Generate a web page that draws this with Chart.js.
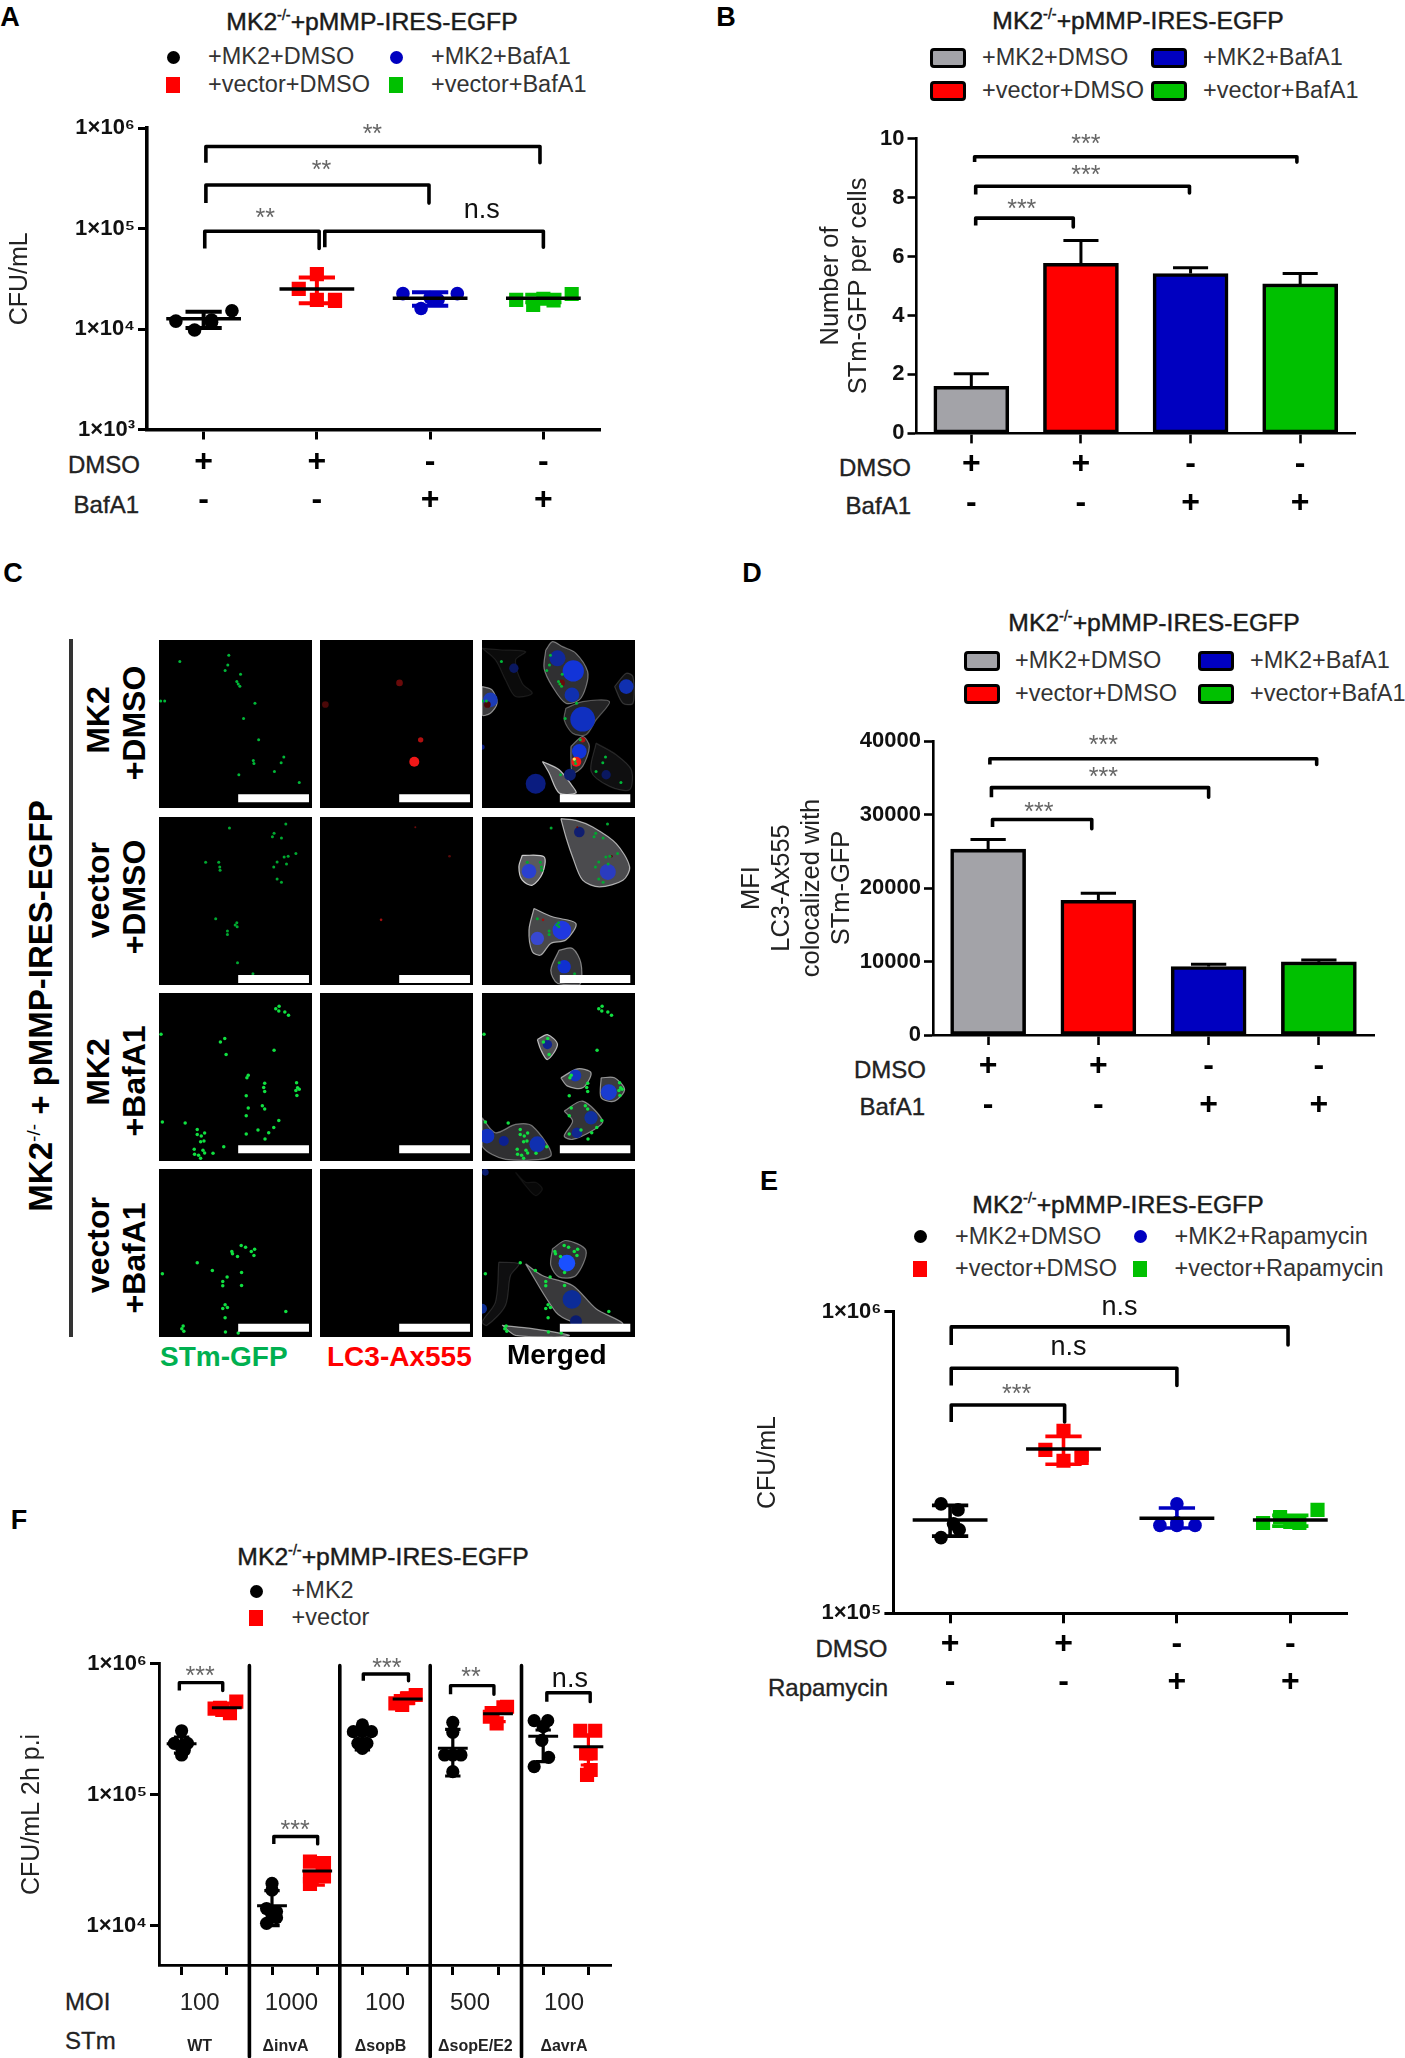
<!DOCTYPE html>
<html><head><meta charset="utf-8">
<style>
html,body{margin:0;padding:0;background:#fff;}
#page{position:relative;width:1405px;height:2058px;overflow:hidden;font-family:"Liberation Sans",Arial,sans-serif;color:#222;}
canvas{position:absolute;display:block;}
canvas.img{background:#000;filter:blur(.5px);}
canvas.img.merged{filter:blur(.7px);}
.t{position:absolute;white-space:nowrap;line-height:1;}
.t sup{font-size:58%;line-height:0;font-weight:normal;}
.sw{position:absolute;box-sizing:border-box;}
</style>
<script src="https://cdn.jsdelivr.net/npm/chart.js@4"></script>
</head><body><div id="page"></div>
<script>
/* ---------- labels ---------- */
const panelTitle = 'MK2<sup>-/-</sup>+pMMP-IRES-EGFP';
const dmsoRow = ['+','+','-','-'];
const drugRow = ['-','-','+','+'];
const legendBaf = ['+MK2+DMSO','+vector+DMSO','+MK2+BafA1','+vector+BafA1'];
const legendRapa = ['+MK2+DMSO','+vector+DMSO','+MK2+Rapamycin','+vector+Rapamycin'];
const legendF = ['+MK2','+vector'];
const moiLabels = ['100','1000','100','500','100'];
const moiCenters = [0.40,2.43,4.50,6.38,8.46];
const strainLabels = ['WT','ΔinvA','ΔsopB','ΔsopE/E2','ΔavrA'];
const strainCenters = [0.40,2.30,4.40,6.50,8.46];
const logTicksA = [1e3,1e4,1e5,1e6];
const logTicksE = [1e5,1e6];
const logTicksF = [1e4,1e5,1e6];

/* ---------- panel A ---------- */
const aOffsets = [[-0.245,-0.08,0.07,0.25,0.07],[0,-0.16,0,0.16,0.16],[-0.24,0.24,-0.08,0.07,0],[-0.24,-0.09,0.09,0.25,0]];
const aValues = [[11980,9770,11700,15170,12300],[35160,25070,19500,19500,19000],[22480,22480,16010,19500,20500],[19500,17340,19190,22290,20000]];
const aMeans = [12660,25070,20280,20280];
const aLow = [10240,18030,17060,18470];
const aHigh = [14830,32500,23180,21900];
const aBrackets = [[0.02,2.97,654000,451000,451000],[0.02,1.99,271000,179000,179000],[0.01,1.02,93900,63400,63400],[1.07,3.0,93900,65000,65000]];
const aNotes = [[1.49,1007000,'**'],[1.04,441000,'**'],[0.545,148000,'**'],[2.455,150000,'n.s']];

/* ---------- panel B ---------- */
const bValues = [1.6,5.77,5.42,5.07];
const bErrTop = [2.02,6.54,5.62,5.42];
const bBrackets = [[0.03,2.97,9.38,9.2,9.2],[0.04,1.99,8.38,8.1,8.15],[0.04,0.93,7.3,7.05,7.0]];
const bNotes = [[1.045,10.05,'***'],[1.045,8.97,'***'],[0.46,7.82,'***']];

/* ---------- panel D ---------- */
const dValues = [25290,18320,9320,9950];
const dErrTop = [26600,19270,9630,10200];
const dBrackets = [[0.016,2.98,37590,36800,36800],[0.03,2.0,33660,32360,32360],[0.04,0.94,29320,28300,28060]];
const dNotes = [[1.045,40300,'***'],[1.045,35970,'***'],[0.46,31300,'***']];

/* ---------- panel E ---------- */
const eOffsets = [[-0.08,0.07,0.08,-0.08,0.03],[0,-0.16,0,0.16,0.16],[0,-0.15,0,0.16,0],[-0.24,-0.09,0.08,0.24,0]];
const eValues = [[230700,220300,189200,178200,198000],[402700,348300,320600,327500,335000],[230700,195700,195700,195700,200000],[199300,208500,199300,220300,201000]];
const eMeans = [204000,350900,206700,204000];
const eLow = [180300,312000,191900,194600];
const eHigh = [228000,386200,223400,211300];
const eBrackets = [[0.01,2.98,891000,776000,776000],[0.01,2.0,650000,570000,570000],[0.01,1.01,491000,431000,431000]];
const eNotes = [[1.494,1030000,'n.s'],[1.044,762000,'n.s'],[0.586,560000,'***']];

/* ---------- panel F ---------- */
const fOffsets = [[0,-0.16,0.13,0,0,0.06],[0.21,-0.15,0.07,-0.10,-0.27],[0,0,-0.12,0.1,0,-0.12,0.1],[-0.16,0.15,-0.16,0.15,-0.16],[0,-0.2,0.2,0,0,0.1,-0.1],[0.18,-0.27,-0.12,0,-0.15],[0,0,-0.18,0.18,0,0],[0.12,-0.18,-0.03,-0.14,0.2],[-0.2,0.1,0,0.12,-0.2,-0.03],[-0.18,0.15,-0.05,0.05,-0.03,0.05]];
const fValues = [[308000,247000,247000,226000,201000,220000],[514000,462000,419000,444000,455000],[21000,18700,13500,12800,12000,10400,11500],[30800,30000,20830,23700,23700],[341000,303000,303000,303000,226000,247000,247000],[578000,499000,484000,546000,520000],[357000,201000,201000,201000,150000,300000],[465000,394000,351000,420000,470000],[368000,368000,331000,193000,163800,260000],[308000,308000,207000,207000,141700,154500]];
const fMeans = [244600,462000,14160,26100,291000,538000,226000,415700,280000,232700];
const fLow = [208000,424000,10000,20400,220000,499000,139000,361000,179000,168600];
const fHigh = [276000,500000,18530,31500,323000,598000,316000,457000,312000,286000];
const fBrackets = [[-0.05,0.91,718000,624000,624000],[2.04,3.01,47900,42100,42100],[4.02,5.02,835000,743000,743000],[5.95,6.91,681000,585000,585000],[8.08,9.04,601000,514000,514000]];
const fDividers = [1.5,3.5,5.5,7.52];
const fDividerSpan = [968000,1000];
const fNotes = [[0.41,907000,'***'],[2.51,60500,'***'],[4.54,1050000,'***'],[6.4,885000,'**'],[8.59,760000,'n.s']];

/* ---------- panel C: microscopy fields, values in image units ---------- */
const greenRow1 = [[208,46],[62,65],[205,75],[197,92],[243,103],[232,125],[236,132],[241,139],[286,190],[252,236],[297,300],[5,183],[17,183],[281,362],[283,371],[372,352],[364,369],[344,395],[238,405],[418,428]];
const greenRow2 = [[210,33],[378,21],[343,49],[338,59],[365,63],[408,110],[385,118],[373,120],[352,135],[380,141],[342,150],[139,136],[178,136],[181,150],[182,160],[352,186],[365,196],[169,306],[232,318],[227,325],[233,330],[204,343],[204,353],[234,438],[280,471]];
const greenRow3 = [[358,40],[348,47],[357,54],[375,57],[386,67],[6,124],[196,137],[183,147],[200,185],[343,172],[266,247],[262,255],[315,271],[312,284],[315,296],[410,270],[413,285],[408,293],[418,289],[411,308],[260,309],[308,339],[315,349],[266,346],[260,369],[357,383],[10,388],[78,391],[342,404],[295,412],[327,420],[260,424],[316,439],[114,410],[114,425],[136,421],[126,430],[134,445],[124,447],[105,470],[131,473],[136,481],[193,462],[161,482],[118,488],[106,485],[124,497]];
const greenRow4 = [[258,235],[245,230],[285,241],[217,248],[219,255],[275,248],[234,263],[283,260],[114,282],[159,305],[203,325],[190,338],[246,311],[190,351],[246,350],[10,315],[197,408],[204,416],[190,419],[197,447],[378,428],[72,472],[68,480],[74,488],[198,490],[236,493]];
const redRow1 = [[237,129,10,'#6a0a0a'],[16,194,10,'#4a0808'],[300,300,8,'#b01010'],[281,366,15,'#f01818']];
const redRow2 = [[284,31,3,'#6a0a0a'],[386,118,4,'#5a0a0a'],[182,309,4,'#a01010']];
const cellsRow1 = [
 [[190,30],[210,5],[240,20],[280,40],[315,95],[310,140],[290,180],[250,190],[210,140],[185,85]],
 [[250,205],[300,185],[380,185],[340,240],[310,285],[270,280],[245,240]],
 [[265,320],[300,290],[320,320],[300,380],[270,400],[265,360]],
 [[180,365],[230,390],[270,440],[280,460],[230,460],[200,400]],
 [[340,310],[400,345],[445,390],[440,450],[380,440],[325,395]],
 [[395,140],[430,100],[450,110],[450,190],[420,190]],
 [[0,140],[30,150],[45,190],[25,220],[0,225]],
 [[0,25],[60,30],[130,35],[100,60],[120,130],[150,160],[100,170],[70,120],[40,60]]];
const cellAlphaRow1 = [.32,.24,.3,.55,.1,.13,.4,.07];
const cellsRow2 = [
 [[235,5],[280,10],[330,30],[400,80],[440,150],[420,190],[350,210],[300,190],[270,120],[250,60]],
 [[120,115],[185,120],[180,170],[150,205],[120,190],[110,150]],
 [[155,275],[210,300],[280,320],[250,370],[205,380],[175,415],[150,405],[140,340]],
 [[230,400],[270,395],[295,440],[290,505],[225,500],[205,460]]];
const cellAlphaRow2 = [.5,.6,.48,.36];
const cellsRow3 = [
 [[165,140],[195,125],[225,155],[195,200],[175,170]],
 [[235,255],[285,228],[325,240],[300,285],[255,280]],
 [[355,255],[395,255],[425,290],[395,325],[355,315]],
 [[245,355],[300,325],[360,385],[335,410],[270,440],[245,430],[270,385]],
 [[0,375],[40,420],[100,395],[150,400],[205,490],[70,500],[0,460]]];
const cellAlphaRow3 = [.55,.45,.4,.35,.32];
const cellsRow4 = [
 [[210,240],[250,215],[310,245],[280,320],[230,325],[205,290]],
 [[130,285],[180,320],[270,350],[340,420],[420,465],[350,480],[270,460],[220,430]],
 [[50,280],[110,285],[85,320],[70,410],[15,470],[0,460],[40,400]],
 [[60,470],[150,480],[260,500],[200,505],[100,500]],
 [[100,10],[130,40],[160,40],[180,60],[160,80],[130,50]]];
const cellAlphaRow4 = [.32,.38,.1,.45,.05];
const nucleiRow1 = [[225,55,24,'#10289c'],[272,93,32,'#1234d8'],[268,165,22,'#1030b0'],[300,238,37,'#1030c0'],[290,335,22,'#1234d8'],[262,405,18,'#0c1e70'],[160,432,30,'#0a1c80'],[430,140,22,'#1030b0'],[25,180,22,'#1c3cb8'],[95,85,14,'#0a1860'],[370,405,14,'#0a1860'],[0,322,8,'#0c1e80']];
const nucleiRow2 = [[140,163,22,'#2a40d0'],[375,165,24,'#2a3cc0'],[290,45,16,'#101e70'],[165,365,20,'#3848d0'],[238,340,28,'#2038e0'],[245,450,20,'#1030d0']];
const nucleiRow3 = [[195,155,14,'#102490'],[278,248,18,'#1234c0'],[378,298,24,'#1a3cd0'],[325,375,20,'#1030a0'],[283,420,16,'#102890'],[15,430,22,'#1030c0'],[65,445,15,'#0c2090'],[165,455,24,'#1030b0']];
const nucleiRow4 = [[253,283,25,'#1a50ff'],[268,392,28,'#0c2c98'],[0,420,15,'#0c2c90'],[280,458,18,'#0a1c70'],[10,10,10,'#0a1c70']];
const mergedHighlight = [[275,358,5,'#ffe060']];
const scaleBarSpan = [236,447];
const scaleBarSpanMerged = [232,442];
const scaleBarLevel = [476,487,470,477];

/* ---------- helpers ---------- */
const FONT = '"Liberation Sans"';
const page = document.getElementById('page');
const COL = {k:'#000000',r:'#ff0000',b:'#0000c0',g:'#00c000',gy:'#a3a3a8'};

function txt(html,x,y,size,o={}){
  const d=document.createElement('div');d.className='t';d.innerHTML=html;
  const tx={l:'0',c:'-50%',r:'-100%'}[o.a||'l'];
  d.style.cssText=`left:${x}px;top:${y}px;font-size:${size}px;color:${o.color||'#222'};font-weight:${o.weight||'normal'};`+
    `transform:translate(${tx},-50%)${o.rot?' rotate(-90deg)':''};${o.stroke?`-webkit-text-stroke:${o.stroke}px ${o.color||'#222'};`:''}`;
  page.appendChild(d);return d;
}
function shape(x,y,w,h,css){
  const d=document.createElement('div');d.className='sw';
  d.style.cssText=`left:${x}px;top:${y}px;width:${w}px;height:${h}px;${css}`;page.appendChild(d);
}
function seg(pts,color,width,order,extra={}){
  return Object.assign({type:'line',data:pts,borderColor:color,borderWidth:width,pointRadius:0,fill:false,tension:0,order,borderCapStyle:'butt',borderJoinStyle:'round'},extra);
}
function bracketSets(list,w){return list.map(([a,b,top,fl,fr])=>seg([{x:a,y:fl},{x:a,y:top},{x:b,y:top},{x:b,y:fr}],'#000',w,2));}
function groupSets(i,off,vals,m,lo,hi,color,isSquare,o={}){
  const mh=o.meanHalf||.33,ch=o.capHalf||.16,lw=o.lw||4;
  return [
    {type:'scatter',data:off.map((d,j)=>({x:i+d,y:vals[j]})),backgroundColor:color,borderColor:color,borderWidth:0,
      pointStyle:isSquare?'rect':'circle',pointRadius:isSquare?(o.sq||10):(o.ci||6.8),order:6},
    seg([{x:i,y:lo},{x:i,y:hi}],color,lw,4),
    seg([{x:i-ch,y:hi},{x:i+ch,y:hi}],color,lw,4),
    seg([{x:i-ch,y:lo},{x:i+ch,y:lo}],color,lw,4),
    seg([{x:i-mh,y:m},{x:i+mh,y:m}],'#000',o.meanW||3.5,1)
  ];
}
function barSets(values,tops,colors){
  const sets=[{type:'bar',data:values.map((v,i)=>({x:i,y:v})),backgroundColor:colors,borderColor:'#000',borderWidth:3.6,barThickness:75,grouped:false,order:5,borderSkipped:false}];
  values.forEach((v,i)=>{
    sets.push(seg([{x:i,y:v},{x:i,y:tops[i]}],'#000',3,7));
    sets.push(seg([{x:i-.16,y:tops[i]},{x:i+.16,y:tops[i]}],'#000',3,7));
  });
  return sets;
}
const notesPlugin={id:'notes',afterDraw(chart){
  const items=chart.options.plugins.notes?.items||[];const {ctx,scales:{x,y}}=chart;
  ctx.save();ctx.textAlign='center';ctx.textBaseline='alphabetic';
  items.forEach(([vx,vy,s])=>{
    const star=s.includes('*');const size=star?25:27;
    ctx.font=`${size}px ${FONT}`;ctx.fillStyle=star?'#666':'#111';
    ctx.fillText(s,x.getPixelForValue(vx),y.getPixelForValue(vy)+(star?.585:.27)*size);
  });
  const g=chart.options.plugins.notes?.groups;
  if(g){
    ctx.fillStyle='#222';
    ctx.font=`24px ${FONT}`;
    g.moi.forEach((s,i)=>ctx.fillText(s,x.getPixelForValue(g.moiAt[i]),chart.chartArea.bottom+45));
    ctx.font=`bold 16px ${FONT}`;
    g.strain.forEach((s,i)=>ctx.fillText(s,x.getPixelForValue(g.strainAt[i]),chart.chartArea.bottom+86));
  }
  ctx.restore();
}};
const SUP={3:'³',4:'⁴',5:'⁵',6:'⁶'};
function plotChart(c){
  const cv=document.createElement('canvas');const [L,T,W,H]=c.box;
  cv.style.left=L+'px';cv.style.top=T+'px';cv.width=W;cv.height=H;cv.style.width=W+'px';cv.style.height=H+'px';page.appendChild(cv);
  const [pl,pt,pr,pb]=c.plot;
  const yOpts=Object.assign({
    min:c.yMin,max:c.yMax,type:c.log?'logarithmic':'linear',
    afterFit(s){s.width=pl-L;},
    border:{display:true,width:c.axisW||3.2,color:'#000'},
    grid:{drawOnChartArea:false,drawTicks:true,tickLength:c.tickLen||9,tickWidth:c.tickW||3,color:'#000'},
    title:{display:true,text:c.yTitle,color:'#222',font:{family:FONT,size:c.yTitleSize||25,lineHeight:c.yTitleLH||1.2},padding:{top:c.yTitlePad||0,bottom:0}},
    ticks:{color:'#111',padding:3,autoSkip:false,font:{family:FONT,size:22,weight:'bold'},
      callback:c.log?(v=>'1×10'+SUP[Math.round(Math.log10(v))]):(v=>String(v)),
      stepSize:c.step}
  },c.log?{afterBuildTicks(s){s.ticks=c.logTicks.map(v=>({value:v,major:true}));}}:{});
  const xCount=c.xCount||4;
  return new Chart(cv,{type:'line',data:{datasets:c.sets},plugins:[notesPlugin],options:{
    responsive:false,animation:false,devicePixelRatio:1,
    layout:{autoPadding:false,padding:{left:0,top:pt-T,right:L+W-pr,bottom:0}},
    plugins:{legend:{display:false},tooltip:{enabled:false},notes:{items:c.notes,groups:c.groups}},
    events:[],
    scales:{
      y:yOpts,
      x:{type:'linear',min:-.5,max:xCount-.5,offset:false,
        afterBuildTicks(s){s.ticks=Array.from({length:xCount},(_,i)=>({value:i}));},
        afterFit(s){s.height=T+H-pb;},
        border:{display:true,width:c.axisW||3.2,color:'#000'},
        grid:{offset:false,drawOnChartArea:false,drawTicks:true,tickLength:10,tickWidth:c.tickW||3,color:'#000'},
        ticks:{autoSkip:false,maxRotation:0,minRotation:0,color:'#000',padding:c.tickPad??3,
          font:{family:FONT,size:32,weight:'bold',lineHeight:38.5/32},
          callback:(v,i)=>c.xRows?[c.xRows[0][i],c.xRows[1][i]]:''}
      }
    }}});
}
function title(x,y){txt(panelTitle,x,y,24.7,{a:'c',stroke:.45,color:'#1a1a1a'});}
function letter(s,x,y){txt(s,x,y,27,{a:'c',weight:'bold',color:'#000'});}
function legendMarks(labels,mx,tx,rows,colors,squares){
  labels.forEach((s,i)=>{
    const col=Math.floor(i/rows.length),r=i%rows.length,y=rows[r],x=mx[col];
    if(squares[i]) shape(x-7,y-8,14,16,`background:${colors[i]};`);
    else shape(x-6.5,y-6.5,13,13,`background:${colors[i]};border-radius:50%;`);
    txt(s,tx[col],y,23.5,{color:'#333'});
  });
}
function legendSwatches(labels,sx,tx,rows,colors){
  labels.forEach((s,i)=>{
    const col=Math.floor(i/2),r=i%2,y=rows[r];
    shape(sx[col],y-10,36,20,`background:${colors[i]};border:3.5px solid #000;border-radius:4px;`);
    txt(s,tx[col],y,23.5,{color:'#333'});
  });
}
function rowLabels(a,ay,b,by,rx){txt(a,rx[0],ay,24,{a:'r',stroke:.35});txt(b,rx[1],by,24,{a:'r',stroke:.35});}

/* ---------- panel A ---------- */
const pal=[COL.k,COL.r,COL.b,COL.g],sq=[false,true,false,true];
letter('A',10,17);title(372,21.5);
legendMarks(legendBaf,[173,396],[208,431],[57,85],pal,sq);
rowLabels('DMSO',465,'BafA1',505,[140,139]);
plotChart({box:[0,100,640,430],plot:[147,128,600,429.5],log:true,logTicks:logTicksA,yMin:1e3,yMax:1e6,yTitle:'CFU/mL',yTitleSize:25,yTitlePad:5,
  xRows:[dmsoRow,drugRow],notes:aNotes,axisW:3.6,
  sets:[...aValues.flatMap((v,i)=>groupSets(i,aOffsets[i],v,aMeans[i],aLow[i],aHigh[i],pal[i],sq[i])),...bracketSets(aBrackets,3.6)]});

/* ---------- panel B ---------- */
const barPal=[COL.gy,COL.r,COL.b,COL.g];
letter('B',726,17);title(1138,21);
legendSwatches(legendBaf,[930,1151],[982,1203],[57.5,90.5],barPal);
rowLabels('DMSO',468,'BafA1',506,[911,911]);
plotChart({box:[800,110,600,420],plot:[916.5,138.5,1355,433.4],yMin:0,yMax:10,step:2,yTitle:['Number of','STm-GFP per cells'],yTitleSize:25.5,yTitleLH:28/25.5,yTitlePad:17,
  xRows:[dmsoRow,drugRow],notes:bNotes,axisW:2.6,tickW:2.6,tickPad:2,
  sets:[...barSets(bValues,bErrTop,barPal),...bracketSets(bBrackets,3.6)]});

/* ---------- panel C ---------- */
letter('C',13,573);
const imgCols=[159,320,482],imgRows=[640,816.5,992.5,1168.5],imgW=153,imgH=168;
const greens=[greenRow1,greenRow2,greenRow3,greenRow4];
const greenTone=['#00b838','#00a830','#10e040','#10e040'];
const cells=[cellsRow1,cellsRow2,cellsRow3,cellsRow4];
const cellAlpha=[cellAlphaRow1,cellAlphaRow2,cellAlphaRow3,cellAlphaRow4];
const nuclei=[nucleiRow1,nucleiRow2,nucleiRow3,nucleiRow4];
const reds=[redRow1,redRow2,[],[]];
function bubble(arr,order){return {type:'bubble',data:arr.map(p=>({x:p[0],y:p[1],r:p[2]/3})),backgroundColor:arr.map(p=>p[3]),borderWidth:0,order};}
function imageChart(col,row){
  const cv=document.createElement('canvas');cv.className=col===2?'img merged':'img';
  cv.style.left=imgCols[col]+'px';cv.style.top=imgRows[row]+'px';cv.width=imgW;cv.height=imgH;cv.style.width=imgW+'px';cv.style.height=imgH+'px';page.appendChild(cv);
  const sets=[];
  if(col===2){
    cells[row].forEach((poly,i)=>{
      const a=cellAlpha[row][i];
      sets.push({type:'line',data:[...poly,poly[0]].map(p=>({x:p[0],y:p[1]})),fill:'shape',backgroundColor:`rgba(150,150,155,${a})`,borderColor:`rgba(220,220,220,${Math.min(1,a*1.5)})`,borderWidth:1.2,tension:.3,pointRadius:0,order:9});
    });
    sets.push(bubble(nuclei[row],7));
  }
  if(col!==1){
    sets.push({type:'scatter',data:greens[row].map(p=>({x:p[0]-(col===2&&row<2?4:0),y:p[1]})),backgroundColor:greenTone[row],borderWidth:0,pointRadius:row<2?1.5:1.75,order:5});
  }
  if(col!==0&&reds[row].length){ sets.push(bubble(reds[row],col===2?6:5)); }
  if(col===2&&row===0){ sets.push(bubble(mergedHighlight,4)); }
  const span=col===2?scaleBarSpanMerged:scaleBarSpan;
  sets.push(seg([{x:span[0],y:scaleBarLevel[row]},{x:span[1],y:scaleBarLevel[row]}],'#ffffff',8,1));
  new Chart(cv,{type:'line',data:{datasets:sets},options:{responsive:false,animation:false,devicePixelRatio:1,events:[],layout:{autoPadding:false,padding:0},
    plugins:{legend:{display:false},tooltip:{enabled:false}},
    scales:{x:{type:'linear',display:false,min:0,max:456},y:{type:'linear',display:false,min:0,max:505,reverse:true}}}});
}
for(let r=0;r<4;r++)for(let c=0;c<3;c++)imageChart(c,r);
shape(69,639,4,698,'background:#333;');
txt('MK2<sup>-/-</sup> + pMMP-IRES-EGFP',40,1006,33,{a:'c',rot:true,weight:'bold',color:'#000'});
const rowA=['MK2','vector','MK2','vector'],rowB=['+DMSO','+DMSO','+BafA1','+BafA1'];
const rowAY=[720,890,1072,1245],rowBY=[723,897,1081,1258];
rowA.forEach((s,i)=>{txt(s,98,rowAY[i],32,{a:'c',rot:true,weight:'bold',color:'#000'});txt(rowB[i],134,rowBY[i],32,{a:'c',rot:true,weight:'bold',color:'#000'});});
txt('STm-GFP',160,1357,28,{weight:'bold',color:'#00b050'});
txt('LC3-Ax555',327,1357,28,{weight:'bold',color:'#ff0000'});
txt('Merged',507,1355,28,{weight:'bold',color:'#000'});

/* ---------- panel D ---------- */
letter('D',752,573);title(1154,623);
legendSwatches(legendBaf,[964,1198],[1015,1250],[660.7,693.5],barPal);
rowLabels('DMSO',1070,'BafA1',1107,[926,925]);
plotChart({box:[730,720,660,410],plot:[933,741,1374,1035],yMin:0,yMax:40000,step:10000,yTitle:['MFI','LC3-Ax555','colocalized with','STm-GFP'],yTitleSize:25.5,yTitleLH:30/25.5,yTitlePad:7,
  xRows:[dmsoRow,drugRow],notes:dNotes,axisW:2.6,tickW:2.6,tickPad:2,
  sets:[...barSets(dValues,dErrTop,barPal),...bracketSets(dBrackets,3.6)]});

/* ---------- panel E ---------- */
letter('E',769,1181);title(1118,1205);
legendMarks(legendRapa,[920,1140],[955,1174.5],[1236.5,1269],pal,sq);
rowLabels('DMSO',1649,'Rapamycin',1688,[887.5,888]);
plotChart({box:[750,1290,640,420],plot:[893.4,1311.8,1347,1613.3],log:true,logTicks:logTicksE,yMin:1e5,yMax:1e6,yTitle:'CFU/mL',yTitleSize:25,yTitlePad:3,
  xRows:[dmsoRow,drugRow],notes:eNotes,axisW:3,tickPad:1.5,
  sets:[...eValues.flatMap((v,i)=>groupSets(i,eOffsets[i],v,eMeans[i],eLow[i],eHigh[i],pal[i],sq[i],{lw:3.6})),...bracketSets(eBrackets,3.6)]});

/* ---------- panel F ---------- */
letter('F',19,1520);title(383,1557);
legendMarks(legendF,[256],[291.6],[1591,1618],[COL.k,COL.r],[false,true]);
txt('MOI',65,2002,24,{stroke:.3});txt('STm',65,2041,24,{stroke:.3});
plotChart({box:[0,1640,640,418],plot:[159,1663.8,611,1965],log:true,logTicks:logTicksF,yMin:5000,yMax:1e6,yTitle:'CFU/mL 2h p.i',yTitleSize:25,yTitlePad:17,xCount:10,
  notes:fNotes,groups:{moi:moiLabels,moiAt:moiCenters,strain:strainLabels,strainAt:strainCenters},axisW:2.8,
  sets:[...fValues.flatMap((v,i)=>groupSets(i,fOffsets[i],v,fMeans[i],fLow[i],fHigh[i],i%2?COL.r:COL.k,i%2===1,{meanHalf:.33,capHalf:.17,lw:3.2,meanW:3,ci:6.6,sq:10})),
    ...bracketSets(fBrackets,3.4),
    ...fDividers.map(d=>seg([{x:d,y:fDividerSpan[0]},{x:d,y:fDividerSpan[1]}],'#000',3.6,1,{clip:false}))]});
</script></body></html>
